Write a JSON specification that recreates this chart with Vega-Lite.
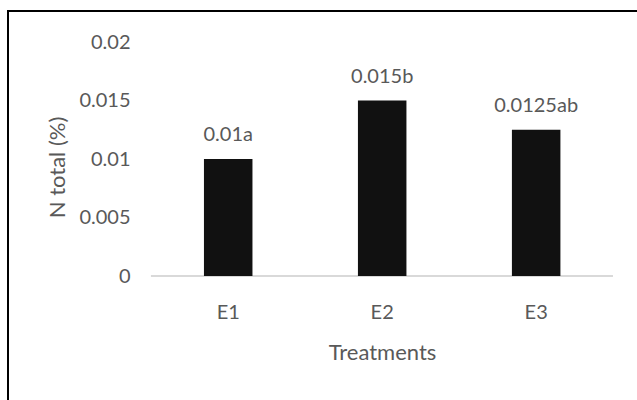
{
  "$schema": "https://vega.github.io/schema/vega-lite/v6.json",
  "width": 629,
  "height": 389,
  "autosize": {"type": "none"},
  "padding": {"left": 8, "top": 11, "right": 0, "bottom": 0},
  "background": "white",
  "config": {
    "font": "Lato",
    "view": {"stroke": "black", "strokeWidth": 2, "strokeDash": [629, 1018, 389]}
  },
  "data": {
    "values": [
      {"treatment": "E1", "value": 0.01, "label": "0.01a"},
      {"treatment": "E2", "value": 0.015, "label": "0.015b"},
      {"treatment": "E3", "value": 0.0125, "label": "0.0125ab"}
    ]
  },
  "encoding": {
    "x": {
      "field": "treatment",
      "type": "nominal",
      "scale": {"paddingInner": 0.685, "paddingOuter": 0.885, "align": 0.719},
      "axis": {
        "orient": "bottom",
        "offset": -124,
        "domain": false,
        "ticks": false,
        "tickSize": 0,
        "grid": false,
        "labelAngle": 0,
        "labelPadding": 36,
        "labelBaseline": "middle",
        "labelFont": "Lato",
        "labelFontSize": 20,
        "labelColor": "#595959",
        "title": "Treatments",
        "titleFont": "Lato",
        "titleFontSize": 22,
        "titleColor": "#595959",
        "titleFontWeight": "normal",
        "titleX": 374,
        "titleY": 76,
        "titleBaseline": "middle"
      }
    },
    "y": {
      "field": "value",
      "type": "quantitative",
      "scale": {"domain": [-0.010598, 0.02265], "nice": false, "zero": false},
      "axis": {
        "orient": "left",
        "offset": -143,
        "values": [0, 0.005, 0.01, 0.015, 0.02],
        "format": "~g",
        "domain": false,
        "ticks": false,
        "tickSize": 0,
        "grid": false,
        "labelPadding": 21,
        "labelFont": "Lato",
        "labelFontSize": 20,
        "labelColor": "#595959",
        "title": "N total (%)",
        "titleFont": "Lato",
        "titleFontSize": 22,
        "titleColor": "#595959",
        "titleFontWeight": "normal",
        "titleAngle": -90,
        "titleX": -94,
        "titleY": 156,
        "titleBaseline": "middle",
        "titleAlign": "center"
      }
    }
  },
  "layer": [
    {
      "mark": {"type": "rule", "color": "#d9d9d9", "strokeWidth": 1.5},
      "encoding": {
        "x": {"datum": "E1", "type": "nominal", "bandPosition": -1.093},
        "x2": {"datum": "E3", "bandPosition": 2.082},
        "y": {"datum": 0, "type": "quantitative"}
      }
    },
    {
      "mark": {"type": "bar", "fill": "#111111"},
      "encoding": {
        "y2": {"datum": 0}
      }
    },
    {
      "mark": {"type": "text", "fontSize": 20, "color": "#595959", "baseline": "alphabetic", "dy": -18, "font": "Lato"},
      "encoding": {
        "text": {"field": "label"}
      }
    }
  ]
}
